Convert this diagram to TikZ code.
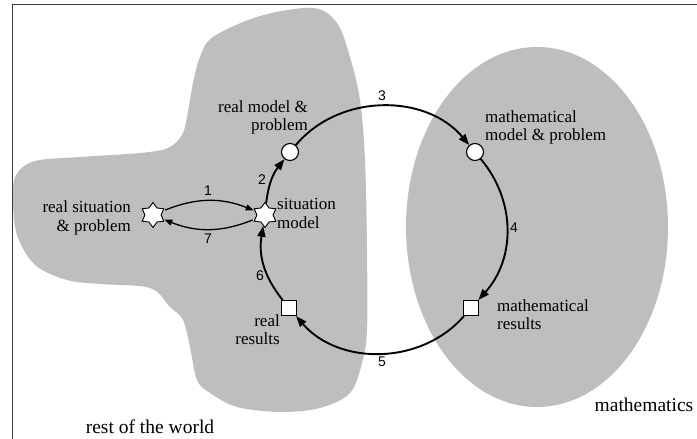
\documentclass[tikz,border=0pt]{standalone}
\usepackage{fontspec}
\setmainfont{Liberation Serif}
\newfontfamily\numfont{Liberation Sans}
\usetikzlibrary{shapes.geometric,arrows.meta}
\definecolor{cRegion}{HTML}{BDBEBD}
\definecolor{cFrame}{HTML}{3A3A3A}
\tikzset{
  region/.style={fill=cRegion},
  frameline/.style={line width=1.8pt, cFrame},
  starmk/.style={star, star points=6, star point ratio=1.55, draw=black, fill=white, line width=0.9pt, minimum size=25pt, inner sep=0pt},
  circmk/.style={circle, draw=black, fill=white, line width=1.1pt, minimum size=17pt, inner sep=0pt},
  sqmk/.style={rectangle, draw=black, fill=white, line width=1.1pt, minimum size=15pt, inner sep=0pt},
  cyc/.style={line width=1.9pt, -{Triangle[length=11pt,width=8pt]}},
  back/.style={line width=1.3pt, -{Triangle[length=8pt,width=6pt]}, shorten <=2pt, shorten >=1pt},
  lbl/.style={font=\fontsize{17}{18.5}\selectfont, inner sep=0pt},
  num/.style={font=\numfont\fontsize{14}{14}\selectfont, inner sep=0pt},
  domlbl/.style={font=\fontsize{19.5}{20}\selectfont, inner sep=0pt},
}

\begin{document}
\begin{tikzpicture}[x=1pt,y=1pt]
\useasboundingbox (0,0) rectangle (697,439);
\fill[region] plot[smooth cycle, tension=0.55] coordinates {
  (13,239) (16,264) (35,278) (80,282) (140,286) (168,291) (182,304) (187,322)
  (193,356) (200,382) (213,402) (260,423) (313,431) (337,416) (350,382) (360,339)
  (365,279) (367,189) (367,109) (362,76) (350,46) (320,31) (280,27) (237,32)
  (210,46) (197,59) (190,92) (183,119) (170,132) (150,151) (100,155) (67,159)
  (35,174) (17,204)};
\fill[region] (537,212) ellipse[x radius=131, y radius=180];
\draw[frameline] (12.5,0) -- (12.5,434.5) -- (697,434.5);

\node[starmk] (rsit) at (153,224) {};
\node[starmk] (smod) at (265,224) {};
\node[circmk] (rmod) at (290,287) {};
\node[circmk] (mmod) at (475,287) {};
\node[sqmk] (mres) at (471,131) {};
\node[sqmk] (rres) at (289,131) {};

\node[lbl, align=right, anchor=east] (trsit) at (131,221) {real situation\\\& problem};
\node[lbl, align=left, anchor=west] (tsmod) at (277,225.5) {situation\\model};
\node[lbl, align=right, anchor=east] (trmod) at (308,321.5) {real model \&\\problem};
\node[lbl, align=left, anchor=west] (tmmod) at (485,311.5) {mathematical\\model \& problem};
\node[lbl, align=left, anchor=west] (tmres) at (497,124.5) {mathematical\\results};
\node[lbl, align=right, anchor=east] (trres) at (280,109.5) {real\\results};
\node[domlbl] (world) at (150,12) {rest of the world};
\node[domlbl] (maths) at (644,34) {mathematics};

\draw[back] (rsit) to[bend left=22] (smod);
\draw[back] (smod) to[bend left=22] (rsit);
\draw[cyc] (smod) to[bend left=16] (rmod);
\draw[cyc] (rmod) to[bend left=50] (mmod);
\draw[cyc] (mmod) to[bend left=41] (mres);
\draw[cyc] (mres) to[bend left=49] (rres);
\draw[cyc] (rres) to[bend left=24] (smod);

\node[num] (n1) at (208,248) {1};
\node[num] (n7) at (208,200) {7};
\node[num] (n2) at (262,259) {2};
\node[num] (n3) at (382,343) {3};
\node[num] (n4) at (514,211) {4};
\node[num] (n5) at (382,77) {5};
\node[num] (n6) at (260,163) {6};
\end{tikzpicture}
\end{document}
